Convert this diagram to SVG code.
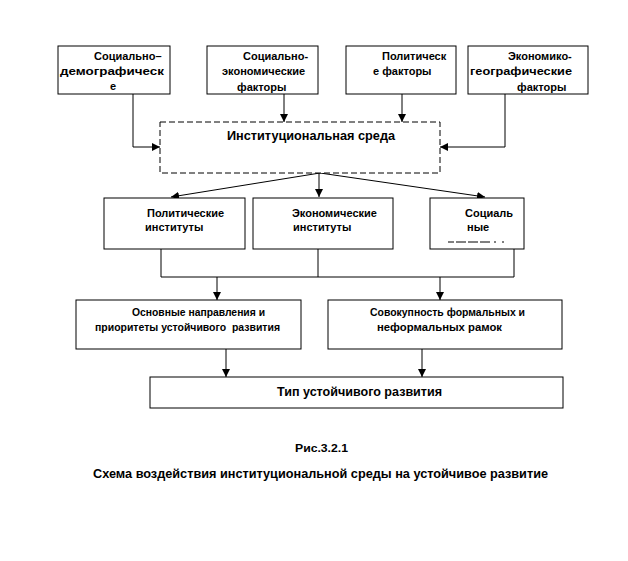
<svg xmlns="http://www.w3.org/2000/svg" width="628" height="561" viewBox="0 0 628 561">
<style>
.box{fill:#fff;stroke:#000;stroke-width:1}
.dash{fill:#fff;stroke:#000;stroke-width:1;stroke-dasharray:6,3}
.t{font-family:"Liberation Sans",Arial,sans-serif;font-size:11px;font-weight:bold;fill:#000}
.b{font-size:12px}
.c{fill:none;stroke:#000;stroke-width:1}
</style>
<defs>
<marker id="ah" viewBox="0 0 10 10" refX="10" refY="5" markerWidth="8" markerHeight="8" markerUnits="userSpaceOnUse" orient="auto">
<path d="M0,0 L10,5 L0,10 z" fill="#000"/>
</marker>
</defs>
<rect width="628" height="561" fill="#fff"/>
<g id="connectors">
<polyline class="c" points="133,94 133,147 160,147" marker-end="url(#ah)"/>
<line class="c" x1="284" y1="94" x2="284" y2="122" marker-end="url(#ah)"/>
<line class="c" x1="402" y1="94" x2="402" y2="122" marker-end="url(#ah)"/>
<polyline class="c" points="505,94 505,147 440,147" marker-end="url(#ah)"/>
<line class="c" x1="320" y1="173" x2="171" y2="197" marker-end="url(#ah)"/>
<line class="c" x1="319" y1="173" x2="319" y2="197" marker-end="url(#ah)"/>
<line class="c" x1="320" y1="173" x2="485" y2="197" marker-end="url(#ah)"/>
<polyline class="c" points="161,249 161,277 514,277 514,249"/>
<line class="c" x1="318" y1="249" x2="318" y2="277"/>
<line class="c" x1="217" y1="277" x2="217" y2="300" marker-end="url(#ah)"/>
<line class="c" x1="440" y1="277" x2="440" y2="300" marker-end="url(#ah)"/>
<line class="c" x1="226" y1="349" x2="226" y2="377" marker-end="url(#ah)"/>
<line class="c" x1="422" y1="349" x2="422" y2="377" marker-end="url(#ah)"/>
</g>
<g id="n1">
<rect class="box" x="58" y="46" width="112" height="48"/>
<text class="t" x="94" y="60">Социально–</text>
<text class="t" x="60" y="75" textLength="104" lengthAdjust="spacingAndGlyphs">демографическ</text>
<text class="t" x="110" y="90">е</text>
</g>
<g id="n2">
<rect class="box" x="207" y="46" width="111" height="48"/>
<text class="t" x="243" y="60">Социально-</text>
<text class="t" x="222" y="75">экономические</text>
<text class="t" x="237" y="91">факторы</text>
</g>
<g id="n3">
<rect class="box" x="346" y="46" width="110" height="48"/>
<text class="t" x="382" y="60">Политическ</text>
<text class="t" x="373" y="75">е факторы</text>
</g>
<g id="n4">
<rect class="box" x="468" y="46" width="120" height="48"/>
<text class="t" x="508" y="60">Экономико-</text>
<text class="t" x="470" y="75" textLength="102" lengthAdjust="spacingAndGlyphs">географические</text>
<text class="t" x="517" y="91">факторы</text>
</g>
<g id="env">
<rect class="dash" x="160" y="122" width="280" height="51"/>
<text class="t b" x="227" y="140" textLength="168" lengthAdjust="spacingAndGlyphs">Институциональная среда</text>
</g>
<g id="nA">
<rect class="box" x="104" y="198" width="141" height="51"/>
<text class="t" x="147" y="217">Политические</text>
<text class="t" x="145" y="231">институты</text>
</g>
<g id="nB">
<rect class="box" x="253" y="198" width="140" height="51"/>
<text class="t" x="292" y="217">Экономические</text>
<text class="t" x="293" y="231">институты</text>
</g>
<g id="nC">
<rect class="box" x="430" y="198" width="94" height="51"/>
<text class="t" x="465" y="217">Социаль</text>
<text class="t" x="467" y="231">ные</text>
<line x1="448" y1="242" x2="508" y2="242" stroke="#000" stroke-width="1" stroke-dasharray="6,2,10,2,10,2,10,4,2"/>
</g>
<g id="nD">
<rect class="box" x="76" y="300" width="225" height="49"/>
<text class="t" x="132" y="316" textLength="133" lengthAdjust="spacingAndGlyphs">Основные направления и</text>
<text class="t" x="95" y="331" xml:space="preserve" textLength="185" lengthAdjust="spacingAndGlyphs">приоритеты устойчивого  развития</text>
</g>
<g id="nE">
<rect class="box" x="328" y="300" width="234" height="49"/>
<text class="t" x="370" y="316" textLength="155" lengthAdjust="spacingAndGlyphs">Совокупность формальных и</text>
<text class="t" x="377" y="331" textLength="125" lengthAdjust="spacingAndGlyphs">неформальных рамок</text>
</g>
<g id="nF">
<rect class="box" x="150" y="377" width="413" height="31"/>
<text class="t b" x="277" y="396" textLength="165" lengthAdjust="spacingAndGlyphs">Тип устойчивого развития</text>
</g>
<g id="caption">
<text class="t" x="295" y="452" textLength="53" lengthAdjust="spacingAndGlyphs">Рис.3.2.1</text>
<text class="t b" x="93" y="478" textLength="455" lengthAdjust="spacingAndGlyphs">Схема воздействия институциональной среды на устойчивое развитие</text>
</g>
</svg>
